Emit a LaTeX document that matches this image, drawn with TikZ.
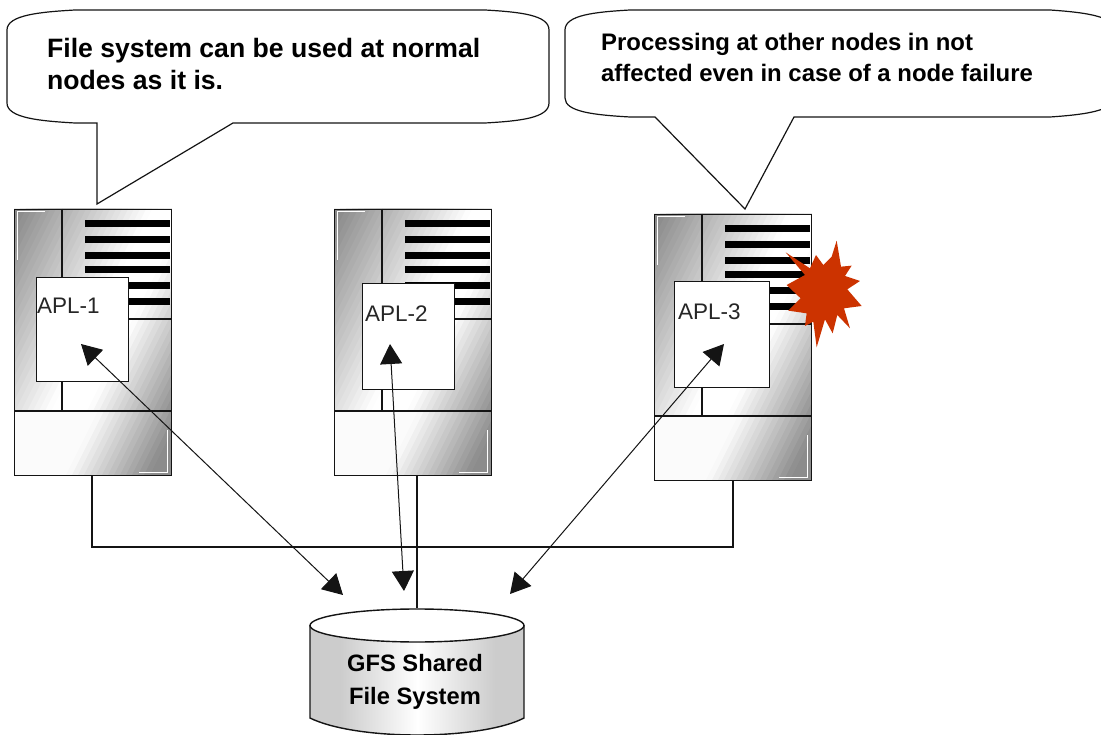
\documentclass[tikz,border=0pt]{standalone}
\usepackage{fontspec}
\setmainfont{Liberation Sans}
\usetikzlibrary{arrows.meta,shapes.geometric}
\definecolor{starred}{HTML}{CC3300}
\definecolor{ink}{HTML}{141414}
\tikzset{
  outline/.style={draw=ink,line width=1.4pt},
  thin line/.style={draw=ink,line width=1.1pt},
  bubble/.style={draw=ink,line width=1.2pt,fill=white},
  bubbletext/.style={align=left,anchor=north west,inner sep=0pt,text=black},
  aplbox/.style={draw=ink,line width=1.4pt,fill=white,inner sep=0pt,anchor=north west},
  apltext/.style={font=\fontsize{22.5}{24}\selectfont,anchor=west,inner sep=0pt,text=black!85},
  twoway/.style={draw=ink,line width=1pt,{Triangle[length=20pt,width=22pt]}-{Triangle[length=20pt,width=22pt]}},
}
\newcommand{\serverbody}[3]{%
  \begin{scope}[shift={(#1,#2)}]
    \begin{scope}
      \clip (0,0) rectangle (157,202);
      \foreach \s in {0,6,...,258}{
        \pgfmathsetmacro{\gv}{min(1,min(.53+.0035*\s,.55+(258-\s)*.0052))}
        \definecolor{bandc}{gray}{\gv}
        \fill[bandc] (\s,0) -- (400,0) -- (400,202) -- (\s-101,202) -- cycle;
      }
    \end{scope}
    \begin{scope}
      \clip (0,202) rectangle (157,266);
      \foreach \s in {0,6,...,192}{
        \pgfmathsetmacro{\gv}{min(.985,max(.55,.55+(165-\s)*.0052))}
        \definecolor{bandc}{gray}{\gv}
        \fill[bandc] (\s,202) -- (400,202) -- (400,266) -- (\s-32,266) -- cycle;
      }
    \end{scope}
    \foreach \yy in {15,31,47,61,77,93}{\fill[black] (71,\yy-3.5) rectangle (156,\yy+3.5);}
    \draw[white,line width=1pt] (3,51) -- (3,3) -- (31,3);
    \draw[white,line width=1pt] (125,263) -- (153,263) -- (153,221);
    \draw[thin line] (48,0) -- (48,202);
    \draw[thin line] (71,110) -- (157,110);
    \draw[thin line] (0,202) -- (157,202);
    \node[outline,minimum width=157pt,minimum height=266pt,inner sep=0pt,anchor=north west] (#3) at (0,0) {};
  \end{scope}}
\begin{document}
\begin{tikzpicture}[x=1pt,y=-1pt]
\useasboundingbox (0,0) rectangle (1101,735);
\fill[white] (0,0) rectangle (1101,735);

% callouts
\draw[bubble] (97,123) -- (97,204) -- (233,123) -- (485,123)
  .. controls (520,121) and (549,118) .. (549,103) -- (549,30)
  .. controls (549,15) and (520,12) .. (485,10) -- (75,10)
  .. controls (40,12) and (7,15) .. (7,30) -- (7,103)
  .. controls (7,118) and (40,121) .. (75,123) -- cycle;
\draw[bubble] (655,117) -- (745,209) -- (794,117) -- (1050,117)
  .. controls (1080,115) and (1101,112) .. (1110,105) -- (1110,22)
  .. controls (1101,15) and (1080,12) .. (1050,10) -- (630,10)
  .. controls (595,12) and (565,15) .. (565,30) -- (565,98)
  .. controls (565,112) and (595,115) .. (630,117) -- cycle;
\node[bubbletext,font=\fontsize{26.6}{32}\selectfont\bfseries] (t1) at (47,38.5) {File system can be used at normal\\nodes as it is.};
\node[bubbletext,font=\fontsize{23.9}{31}\selectfont\bfseries] (t2) at (601,32.5) {Processing at other nodes in not\\affected even in case of a node failure};

% servers
\serverbody{14}{209}{s1}
\serverbody{334}{209}{s2}
\serverbody{654}{214}{s3}

\node[aplbox,minimum width=92pt,minimum height=104pt] (b1) at (36,277) {};
\node[aplbox,minimum width=92pt,minimum height=106pt] (b2) at (362,283) {};
\node[aplbox,minimum width=95pt,minimum height=106pt] (b3) at (674,281) {};
\node[apltext] (l1) at (37,306) {APL-1};
\node[apltext] (l2) at (365,314) {APL-2};
\node[apltext] (l3) at (678,312) {APL-3};

% star
\begin{scope}[shift={(640,200)},x=0.3333pt,y=-0.3333pt]
\fill[starred] (590,122) -- (603,200) -- (635,197) -- (615,228) -- (660,243) -- (622,268) -- (665,318) -- (612,325) -- (630,385) -- (592,345) -- (578,400) -- (555,358) -- (530,442) -- (520,365) -- (495,378) -- (500,340) -- (445,332) -- (482,295) -- (440,255) -- (495,225) -- (437,157) -- (510,205) -- (528,165) -- (550,195) -- (575,170) -- cycle;
\end{scope}

% cylinder
\begin{scope}
\clip (310,625) -- (310,718) .. controls (330,728) and (370,735) .. (417,735) .. controls (465,735) and (505,728) .. (524,718) -- (524,625) -- cycle;
\fill[black!20] (310,620) rectangle (524,735);
\shade[left color=black!20,right color=black!20,middle color=white] (340,620) rectangle (495,735);
\end{scope}
\draw[outline] (310,625) -- (310,718) .. controls (330,728) and (370,735) .. (417,735) .. controls (465,735) and (505,728) .. (524,718) -- (524,625);
\node[ellipse,draw=ink,line width=1.4pt,fill=white,minimum width=214pt,minimum height=33pt,inner sep=0pt] (cyl) at (417,625.5) {};
\node[font=\fontsize{23.7}{33}\selectfont\bfseries,align=center,inner sep=0pt,anchor=north,text=black] (cyltext) at (415,653.7) {GFS Shared\\File System};

% wiring
\coordinate (bus1) at (92,547);
\coordinate (bus3) at (733,547);
\coordinate (s1out) at (92,475);
\coordinate (s2out) at (417,475);
\coordinate (s3out) at (733,480);
\draw[thin line] (s1out) -- (bus1) -- (bus3) -- (s3out);
\draw[thin line] (s2out) -- (cyl.north);

% arrows
\coordinate (a1) at (81,344);
\coordinate (a1e) at (343,595);
\coordinate (a2) at (390,344);
\coordinate (a2e) at (404,591);
\coordinate (a3) at (724,344);
\coordinate (a3e) at (510,594);
\draw[twoway] (a1) -- (a1e);
\draw[twoway] (a2) -- (a2e);
\draw[twoway] (a3) -- (a3e);
\end{tikzpicture}
\end{document}
